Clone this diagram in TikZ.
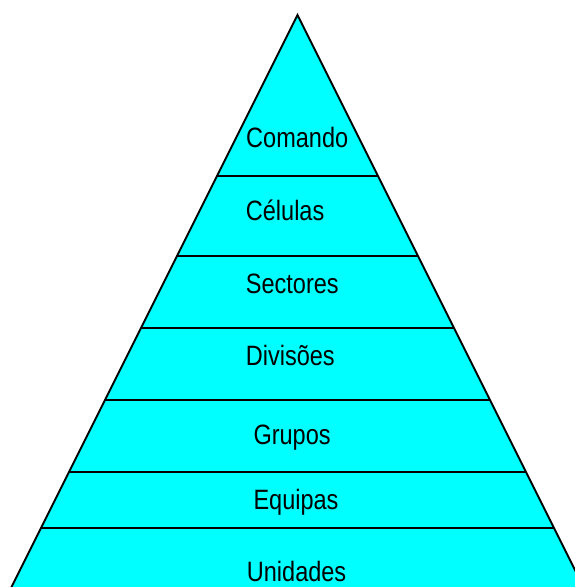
\documentclass[tikz,border=0pt]{standalone}
\usepackage{fontspec}
\setmainfont{Liberation Sans}[FakeStretch=0.84]
\usetikzlibrary{calc}
\definecolor{aqua}{RGB}{0,255,255}
\begin{document}
\begin{tikzpicture}[x=1pt,y=1pt,
  lbl/.style={anchor=base west, inner sep=0pt, font=\fontsize{28}{30}\selectfont},
  tier/.style={line width=2pt}]
\useasboundingbox (0,0) rectangle (575,587);
\clip (0,0) rectangle (575,587);
\coordinate (apex) at (297.5,572);
\coordinate (bl) at (11.5,0);
\coordinate (br) at (583.5,0);
\coordinate (bl2) at (5.5,-12);
\coordinate (br2) at (589.5,-12);
\filldraw[fill=aqua, line width=2pt, line join=miter] (apex) -- (bl2) -- (br2) -- cycle;
\foreach \t in {0.2815,0.4213,0.5472,0.6731,0.7990,0.8969}
  \draw[tier] ($(apex)!\t!(bl)$) -- ($(apex)!\t!(br)$);
\node[lbl] (comando) at (246,439.7) {Comando};
\node[lbl] (celulas) at (245.7,366.3) {Células};
\node[lbl] (sectores) at (245.7,293.7) {Sectores};
\node[lbl] (divisoes) at (245.7,221.3) {Divisões};
\node[lbl] (grupos) at (253.3,142.7) {Grupos};
\node[lbl] (equipas) at (253.3,77) {Equipas};
\node[lbl] (unidades) at (246.7,5.3) {Unidades};
\end{tikzpicture}
\end{document}
